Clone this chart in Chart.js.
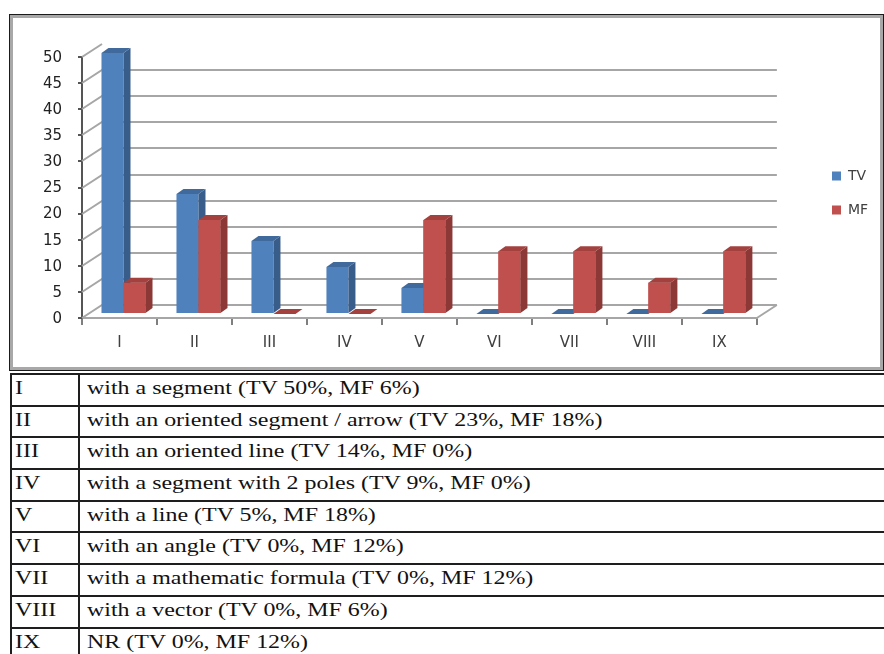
<!DOCTYPE html>
<html>
<head>
<meta charset="utf-8">
<script src="https://cdn.jsdelivr.net/npm/chart.js@4.4.0/dist/chart.umd.min.js"></script>
<style>
  html, body { margin: 0; padding: 0; background: #fff; overflow: hidden; }
  body { width: 884px; height: 654px; position: relative; }
  #frame { position: absolute; left: 9px; top: 14px; width: 873px; height: 355px;
           border: 1px solid #1a1a1a; box-shadow: inset 0 0 0 3px #a8a8a8; }
  #chartBox { position: absolute; left: 3px; top: 3px; width: 870px; height: 349px; }
  #legendTable { position: absolute; left: 10px; top: 373px; border-collapse: collapse;
                 table-layout: fixed; width: 900px;
                 font-family: "Liberation Serif", "Times New Roman", serif; font-size: 19px; color: #111; }
  #legendTable tr { height: 31.7px; }
  #legendTable td { border: 2px solid #1e1e1e; padding: 3px 0 0 7px; vertical-align: top; line-height: 20px; white-space: nowrap; }
  #legendTable td.code { padding-left: 3px; }
  #legendTable span { display: inline-block; transform: scaleX(1.26); transform-origin: 0 0; }
</style>
</head>
<body>
<div id="frame"><div id="chartBox"><canvas id="scoreChart"></canvas></div></div>
<table id="legendTable"><colgroup><col style="width:68px"><col></colgroup><tbody id="rows"></tbody></table>

<script>
const categories = ["I", "II", "III", "IV", "V", "VI", "VII", "VIII", "IX"];
const tvValues = [50, 23, 14, 9, 5, 0, 0, 0, 0];
const mfValues = [6, 18, 0, 0, 18, 12, 12, 6, 12];
const seriesNames = ["TV", "MF"];
const yMin = 0, yMax = 50, yStep = 5;
const rowTexts = [
    "with a segment",
    "with an oriented segment / arrow",
    "with an oriented line",
    "with a segment with 2 poles",
    "with a line",
    "with an angle",
    "with a mathematic formula",
    "with a vector",
    "NR"
];

// table under the chart
let rowsHtml = "";
categories.forEach((c, i) => {
    rowsHtml += `<tr><td class="code"><span>${c}</span></td><td><span>${rowTexts[i]} (TV ${tvValues[i]}%, MF ${mfValues[i]}%)</span></td></tr>`;
});
document.getElementById("rows").innerHTML = rowsHtml;

// fake 3D look, like the old Excel chart
const wall = { dx: 20, dy: -13 };
const depth = { dx: 7, dy: -5 };
const shift = { x: 4, y: -4 };
const frontColors = ["#4f81bd", "#c0504d"];
const sideColors = ["#385d8a", "#8c3836"];
const topColors = ["#416a9c", "#a2413e"];
const legendSpot = { left: 799, top: 131 };

function drawFaces(ctx, meta, i) {
    meta.data.forEach(bar => {
        const { x, y, base, width } = bar.getProps(["x", "y", "base", "width"], true);
        const l = x - width / 2, r = x + width / 2;
        ctx.fillStyle = sideColors[i];
        ctx.beginPath();
        ctx.moveTo(r, y);
        ctx.lineTo(r + depth.dx, y + depth.dy);
        ctx.lineTo(r + depth.dx, base + depth.dy);
        ctx.lineTo(r, base);
        ctx.closePath();
        ctx.fill();
        ctx.fillStyle = topColors[i];
        ctx.beginPath();
        ctx.moveTo(l, y);
        ctx.lineTo(l + depth.dx, y + depth.dy);
        ctx.lineTo(r + depth.dx, y + depth.dy);
        ctx.lineTo(r, y);
        ctx.closePath();
        ctx.fill();
    });
}

const threeD = {
    id: "threeD",
    afterLayout(chart) {
        const lg = chart.legend;
        lg.left = legendSpot.left;
        lg.right = lg.left + lg.width;
        lg.top = legendSpot.top;
        lg.bottom = lg.top + lg.height;
    },
    beforeDatasetsDraw(chart) {
        const { ctx, chartArea: a, scales: { y } } = chart;
        ctx.save();
        ctx.strokeStyle = "#a6a6a6";
        ctx.lineWidth = 2;
        y.ticks.forEach(t => {
            const py = Math.round(y.getPixelForValue(t.value));
            ctx.beginPath();
            ctx.moveTo(a.left, py);
            ctx.lineTo(a.left + wall.dx, py + wall.dy);
            if (t.value < y.max) ctx.lineTo(a.right + wall.dx, py + wall.dy);
            ctx.stroke();
        });
        const p0 = Math.round(y.getPixelForValue(0));
        ctx.beginPath();
        ctx.moveTo(a.right, p0);
        ctx.lineTo(a.right + wall.dx, p0 + wall.dy);
        ctx.stroke();
        ctx.restore();
        ctx.save();
        ctx.translate(shift.x, shift.y);
    },
    afterDatasetsDraw(chart) {
        const ctx = chart.ctx;
        // TV faces first, then MF fronts again so they hide the TV side faces
        drawFaces(ctx, chart.getDatasetMeta(0), 0);
        const mf = chart.getDatasetMeta(1);
        mf.data.forEach(bar => bar.draw(ctx));
        drawFaces(ctx, mf, 1);
        ctx.restore();
    }
};

const ctx = document.getElementById("scoreChart").getContext("2d");
new Chart(ctx, {
    type: "bar",
    data: {
        labels: categories,
        datasets: [
            { label: seriesNames[0], data: tvValues, backgroundColor: frontColors[0],
              barPercentage: 1, categoryPercentage: 0.587 },
            { label: seriesNames[1], data: mfValues, backgroundColor: frontColors[1],
              barPercentage: 1, categoryPercentage: 0.587 }
        ]
    },
    options: {
        responsive: true,
        maintainAspectRatio: false,
        animation: false,
        layout: { padding: { top: 39, right: 60, bottom: 0, left: 0 } },
        plugins: {
            tooltip: { enabled: false },
            legend: {
                position: "right",
                align: "start",
                labels: {
                    boxWidth: 9,
                    boxHeight: 9,
                    padding: 20,
                    color: "#404040",
                    font: { family: "DejaVu Sans", size: 14 }
                }
            }
        },
        scales: {
            x: {
                grid: { display: true, drawOnChartArea: false, tickLength: 7, color: "#7f7f7f", lineWidth: 2, offset: true },
                border: { display: true, color: "#a6a6a6", width: 2 },
                ticks: { color: "#404040", font: { family: "DejaVu Sans", size: 15 }, padding: 9, maxRotation: 0 },
                afterFit(s) { s.height = 49; }
            },
            y: {
                min: yMin,
                max: yMax,
                ticks: { stepSize: yStep, color: "#222", font: { family: "DejaVu Sans", size: 15 }, padding: 16, labelOffset: 1 },
                grid: { drawOnChartArea: false, tickLength: 4, color: "#555", lineWidth: 2 },
                border: { color: "#555", width: 2, dash: [3, 3] },
                afterFit(s) { s.width = 69; }
            }
        }
    },
    plugins: [threeD]
});
</script>
</body>
</html>
